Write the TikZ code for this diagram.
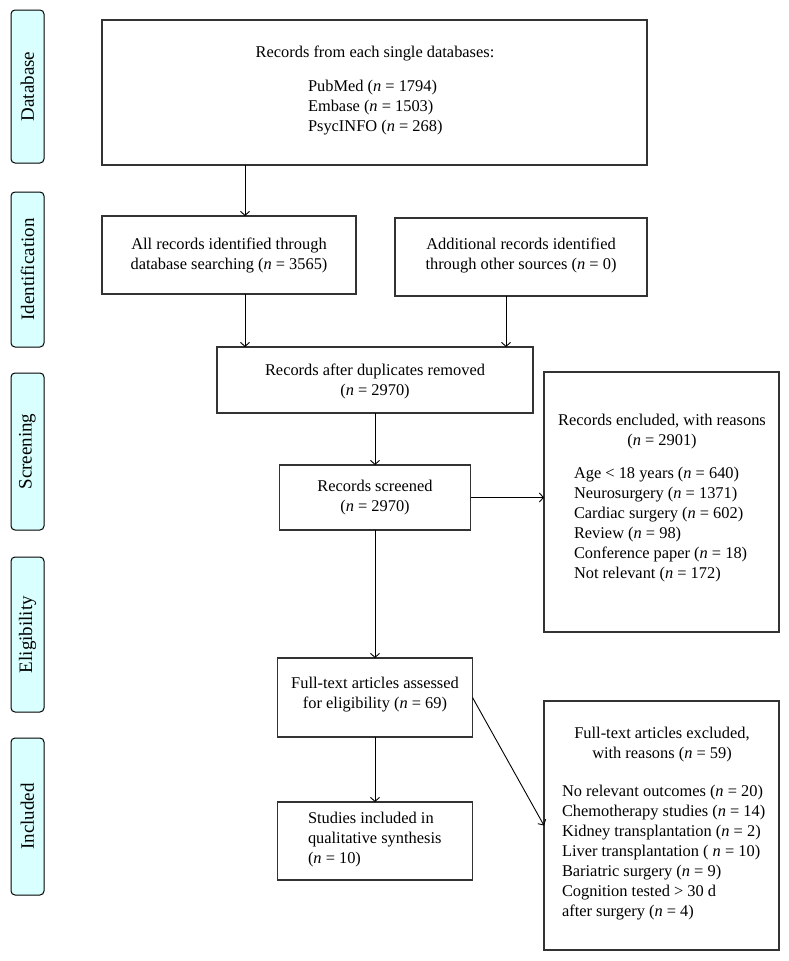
\documentclass[tikz,border=0pt]{standalone}
\usepackage{fontspec}
\setmainfont{Liberation Serif}
\usetikzlibrary{arrows.meta}
\definecolor{tabfill}{HTML}{D9FFFF}
\definecolor{boxline}{HTML}{333333}
\begin{document}
\begin{tikzpicture}[x=1pt,y=-1pt,
  every node/.style={font=\fontsize{16.4}{20}\selectfont, inner sep=0pt, outer sep=0pt},
  tab/.style={draw=black, line width=1pt, fill=tabfill, rounded corners=4pt, minimum width=33pt},
  tabtext/.style={rotate=90, font=\fontsize{19}{20}\selectfont},
  flowbox/.style={draw=boxline, line width=1.2pt},
  txt/.style={align=center},
  ltxt/.style={align=left, anchor=west},
  arr/.style={draw=black, line width=0.9pt, -{Straight Barb[length=4pt,width=9pt]}}
]
\useasboundingbox (0,0) rectangle (789,961);

% side tabs
\node[tab, minimum height=153pt] (tdb) at (27.5,86.5) {};
\node[tabtext] (tdbt) at (tdb) {Database};
\node[tab, minimum height=155pt] (tid) at (27.5,269.5) {};
\node[tabtext] (tidt) at (tid) {Identification};
\node[tab, minimum height=157pt] (tsc) at (27.5,451.5) {};
\node[tabtext] (tsct) at (tsc) {Screening};
\node[tab, minimum height=155pt] (tel) at (27.5,634.5) {};
\node[tabtext] (telt) at (tel) {Eligibility};
\node[tab, minimum height=157pt] (tin) at (27.5,816.5) {};
\node[tabtext] (tint) at (tin) {Included};

% boxes
\node[flowbox, minimum width=545pt, minimum height=145pt] (db) at (374.5,92.5) {};
\node[txt] (dbh) at (375,53) {Records from each single databases:};
\node[ltxt] (dbl) at (308,108) {PubMed (\textit{n} = 1794)\\Embase (\textit{n} = 1503)\\PsycINFO (\textit{n} = 268)};

\node[flowbox, minimum width=254pt, minimum height=78pt] (all) at (229,255) {};
\node[txt] (allt) at (229,255) {All records identified through\\database searching (\textit{n} = 3565)};

\node[flowbox, minimum width=252pt, minimum height=78pt] (add) at (521,257) {};
\node[txt] (addt) at (521,255) {Additional records identified\\through other sources (\textit{n} = 0)};

\node[flowbox, minimum width=316pt, minimum height=66pt] (dup) at (375,380) {};
\node[txt] (dupt) at (375,381) {Records after duplicates removed\\(\textit{n} = 2970)};

\node[flowbox, minimum width=191pt, minimum height=65pt] (scr) at (375,497.5) {};
\node[txt] (scrt) at (375,497.5) {Records screened\\(\textit{n} = 2970)};

\node[flowbox, minimum width=235pt, minimum height=260pt] (ex1) at (661.5,502) {};
\node[txt] (ex1h) at (662,432) {Records encluded, with reasons\\(\textit{n} = 2901)};
\node[ltxt] (ex1l) at (574,525) {Age < 18 years (\textit{n} = 640)\\Neurosurgery (\textit{n} = 1371)\\Cardiac surgery (\textit{n} = 602)\\Review (\textit{n} = 98)\\Conference paper (\textit{n} = 18)\\Not relevant (\textit{n} = 172)};

\node[flowbox, minimum width=195pt, minimum height=79pt] (ft) at (375,697.5) {};
\node[txt] (ftt) at (375,695) {Full-text articles assessed\\for eligibility (\textit{n} = 69)};

\node[flowbox, minimum width=195pt, minimum height=78pt] (inc) at (375,841) {};
\node[ltxt] (inct) at (308,840) {Studies included in\\qualitative synthesis\\(\textit{n} = 10)};

\node[flowbox, minimum width=235pt, minimum height=249pt] (ex2) at (661.5,825.5) {};
\node[txt] (ex2h) at (662,745) {Full-text articles excluded,\\with reasons (\textit{n} = 59)};
\node[ltxt] (ex2l) at (562,852.5) {No relevant outcomes (\textit{n} = 20)\\Chemotherapy studies (\textit{n} = 14)\\Kidney transplantation (\textit{n} = 2)\\Liver transplantation ( \textit{n} = 10)\\Bariatric surgery (\textit{n} = 9)\\Cognition tested > 30 d\\after surgery (\textit{n} = 4)};

% connectors
\coordinate (cL) at (245,0);
\coordinate (cR) at (506,0);
\draw[arr] (db.south -| cL) -- (all.north -| cL);
\draw[arr] (all.south -| cL) -- (dup.north -| cL);
\draw[arr] (add.south -| cR) -- (dup.north -| cR);
\draw[arr] (dup.south) -- (scr.north);
\draw[arr] (scr.east) -- (scr.east -| ex1.west);
\draw[arr] (scr.south) -- (ft.north);
\draw[arr] (ft.south) -- (inc.north);
\draw[arr] (ft.east) -- (ex2.west);
\end{tikzpicture}
\end{document}
